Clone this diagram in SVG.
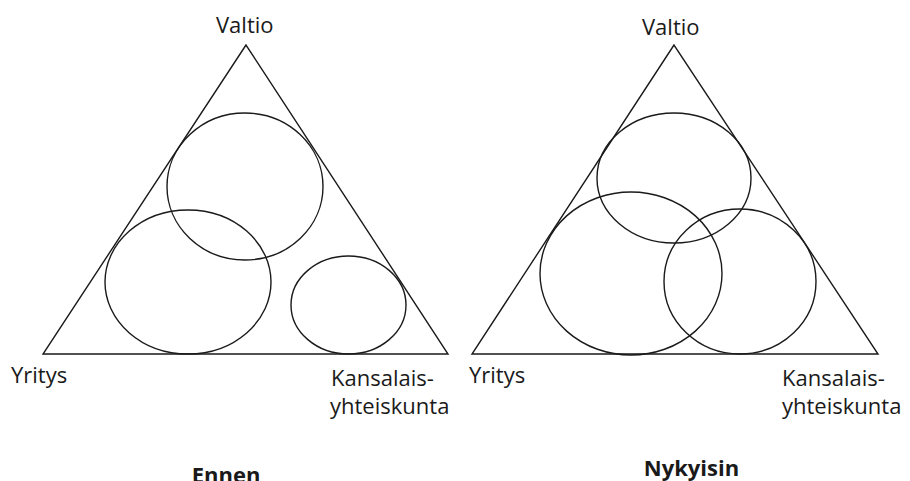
<svg xmlns="http://www.w3.org/2000/svg" width="910" height="481" viewBox="0 0 910 481">
<style>
.s{fill:none;stroke:#1a1a1a;stroke-width:1.4}
.t{font-family:"Open Sans","Liberation Sans",sans-serif;font-size:22px;fill:#1a1a1a}
.b{font-family:"Open Sans","Liberation Sans",sans-serif;font-size:22px;font-weight:bold;fill:#1a1a1a;text-anchor:middle}
</style>
<rect width="910" height="481" fill="#fff"/>
<g id="ennen">
  <g id="ennen-triangle"><polygon class="s" points="246,45 43,354 448,354"/></g>
  <g id="ennen-valtio"><ellipse class="s" cx="245" cy="186.5" rx="78" ry="73.5"/></g>
  <g id="ennen-yritys"><ellipse class="s" cx="188" cy="282" rx="83" ry="72"/></g>
  <g id="ennen-kansalais"><ellipse class="s" cx="348.5" cy="305" rx="57.5" ry="49"/></g>
  <text class="t" x="216" y="33">Valtio</text>
  <text class="t" x="11" y="383">Yritys</text>
  <text class="t" x="331" y="386">Kansalais-</text>
  <text class="t" x="330" y="414">yhteiskunta</text>
  <text class="b" x="226" y="483">Ennen</text>
</g>
<g id="nykyisin">
  <g id="nyky-triangle"><polygon class="s" points="674,45 472,354 878,354"/></g>
  <g id="nyky-valtio"><ellipse class="s" cx="674" cy="178" rx="77" ry="65"/></g>
  <g id="nyky-yritys"><ellipse class="s" cx="631" cy="273.5" rx="91" ry="81.5"/></g>
  <g id="nyky-kansalais"><ellipse class="s" cx="740" cy="281.5" rx="76" ry="72.5"/></g>
  <text class="t" x="642" y="35">Valtio</text>
  <text class="t" x="469" y="383">Yritys</text>
  <text class="t" x="782" y="386">Kansalais-</text>
  <text class="t" x="782" y="414">yhteiskunta</text>
  <text class="b" x="691.5" y="476">Nykyisin</text>
</g>
<g id="connectors"/>
</svg>
